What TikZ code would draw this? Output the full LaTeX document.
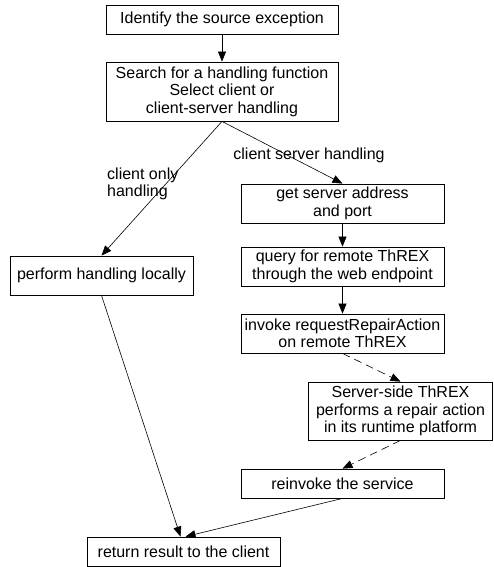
\documentclass[tikz,border=0pt]{standalone}
\usepackage{fontspec}
\setmainfont{Liberation Sans}
\usetikzlibrary{arrows.meta}
\begin{document}
\begin{tikzpicture}[x=1pt,y=-1pt,
  box/.style={draw,line width=0.8pt,inner sep=0pt,align=center,font=\fontsize{16}{17.5}\selectfont},
  lbl/.style={inner sep=0pt,font=\fontsize{16}{17.5}\selectfont},
  arr/.style={line width=0.6pt,-{Triangle[length=10pt,width=8pt]}},
  darr/.style={arr,dash pattern=on 8pt off 5pt}]
\useasboundingbox (0,0) rectangle (493,567);
\node[box,minimum width=232pt,minimum height=29pt] (b1) at (222,19.5) {Identify the source exception};
\node[box,minimum width=232pt,minimum height=59pt] (b2) at (222,91.5) {Search for a handling function\\Select client or\\client-server handling};
\node[box,minimum width=203pt,minimum height=39pt] (b3) at (342.5,203.5) {get server address\\and port};
\node[box,minimum width=203pt,minimum height=39pt] (b4) at (342.5,266.5) {query for remote ThREX\\through the web endpoint};
\node[box,minimum width=203pt,minimum height=39pt] (b5) at (342.5,333.5) {invoke requestRepairAction\\on remote ThREX};
\node[box,minimum width=184pt,minimum height=58pt] (b6) at (400.5,411) {Server-side ThREX\\performs a repair action\\in its runtime platform};
\node[box,minimum width=203pt,minimum height=29pt] (b7) at (342.5,483.5) {reinvoke the service};
\node[box,minimum width=193pt,minimum height=29pt] (b8) at (183.5,551.5) {return result to the client};
\node[box,minimum width=183pt,minimum height=39pt] (pl) at (101.5,275.5) {perform handling locally};
\node[lbl] (l1) at (309,155) {client server handling};
\node[lbl,align=left,anchor=west] (l2) at (107,184) {client only\\handling};
\draw[arr] (b1.south) -- (b2.north);
\draw[arr] (b2.south) -- (pl.north);
\draw[arr] (b2.south) -- (b3.north);
\draw[arr] (b3.south) -- (b4.north);
\draw[arr] (b4.south) -- (b5.north);
\draw[darr] (b5.south) -- (b6.north);
\draw[darr] (b6.south) -- (b7.north);
\draw[arr] (pl.south) -- ([xshift=-3pt]b8.north);
\draw[arr] (b7.south) -- ([xshift=2pt]b8.north);
\end{tikzpicture}
\end{document}
